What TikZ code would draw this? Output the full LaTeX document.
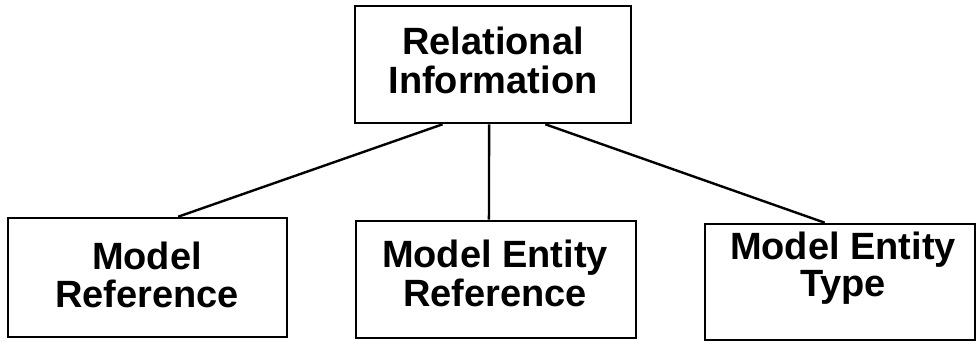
\documentclass[tikz,border=0pt]{standalone}
\usepackage{fontspec}
\setmainfont{Liberation Sans}
\usetikzlibrary{calc}
\begin{document}
\begin{tikzpicture}[x=1pt,y=-1pt,
  box/.style={draw=black, line width=2.6pt, fill=none, inner sep=0pt},
  lbl/.style={anchor=base, inner sep=0pt, font=\fontsize{38}{39}\selectfont\bfseries},
  conn/.style={draw=black, line width=2.4pt}]
\useasboundingbox (0,0) rectangle (977,344);
% boxes
\node[box, minimum width=276pt, minimum height=117pt] (top) at (493,64.5) {};
\node[box, minimum width=279pt, minimum height=119pt] (left) at (147.5,277.5) {};
\node[box, minimum width=280pt, minimum height=117pt] (mid) at (496,279.5) {};
\node[box, minimum width=270pt, minimum height=116pt] (right) at (840,282) {};
% labels
\node[lbl] (t1) at (493,55) {Relational};
\node[lbl] (t2) at (493,94) {Information};
\node[lbl] (l1) at (147,270) {Model};
\node[lbl] (l2) at (147,308) {Reference};
\node[lbl] (m1) at (495,268) {Model Entity};
\node[lbl] (m2) at (495,307) {Reference};
\node[lbl] (r1) at (843,260) {Model Entity};
\node[lbl] (r2) at (843,297) {Type};
% connectors
\draw[conn] ($(top.south west)!0.319!(top.south east)$) -- ($(left.north west)!0.609!(left.north east)$);
\draw[conn] ($(top.south west)!0.486!(top.south east)$) -- ($(mid.north west)!0.475!(mid.north east)$);
\draw[conn] ($(top.south west)!0.688!(top.south east)$) -- ($(right.north west)!0.444!(right.north east)$);
\end{tikzpicture}
\end{document}
